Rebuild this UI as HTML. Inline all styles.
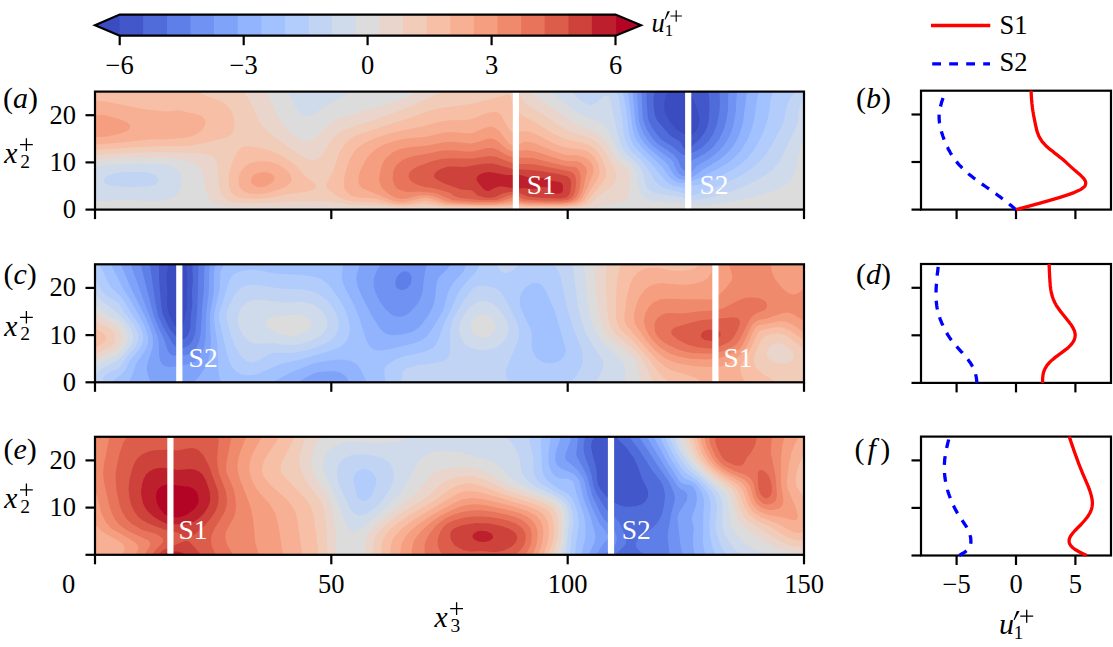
<!DOCTYPE html>
<html><head><meta charset="utf-8"><style>
html,body{margin:0;padding:0;background:#fff;width:1113px;height:647px;overflow:hidden}

</style></head><body>
<svg width="1113" height="647" viewBox="0 0 1113 647" style="position:absolute;left:0;top:0" font-family="Liberation Serif, serif" font-size="26.5">
<rect width="1113" height="647" fill="#fff"/>
<polygon points="120.2,14.6 95.0,25.150000000000002 120.2,35.7" fill="#3b4cc0"/>
<polygon points="615.0,14.6 641.0,25.150000000000002 615.0,35.7" fill="#b40426"/>
<rect x="119.70" y="14.6" width="24.21" height="21.1" fill="#4257c9"/>
<rect x="143.31" y="14.6" width="24.21" height="21.1" fill="#506bda"/>
<rect x="166.92" y="14.6" width="24.21" height="21.1" fill="#5f7fe8"/>
<rect x="190.53" y="14.6" width="24.21" height="21.1" fill="#6f92f3"/>
<rect x="214.14" y="14.6" width="24.21" height="21.1" fill="#80a3fa"/>
<rect x="237.75" y="14.6" width="24.21" height="21.1" fill="#92b4fe"/>
<rect x="261.36" y="14.6" width="24.21" height="21.1" fill="#a2c1ff"/>
<rect x="284.97" y="14.6" width="24.21" height="21.1" fill="#b2ccfb"/>
<rect x="308.58" y="14.6" width="24.21" height="21.1" fill="#c1d4f4"/>
<rect x="332.19" y="14.6" width="24.21" height="21.1" fill="#cfdaea"/>
<rect x="355.80" y="14.6" width="24.21" height="21.1" fill="#dddcdc"/>
<rect x="379.40" y="14.6" width="24.21" height="21.1" fill="#e9d5cb"/>
<rect x="403.01" y="14.6" width="24.21" height="21.1" fill="#f1ccb8"/>
<rect x="426.62" y="14.6" width="24.21" height="21.1" fill="#f6bfa6"/>
<rect x="450.23" y="14.6" width="24.21" height="21.1" fill="#f7b093"/>
<rect x="473.84" y="14.6" width="24.21" height="21.1" fill="#f59f80"/>
<rect x="497.45" y="14.6" width="24.21" height="21.1" fill="#f08a6c"/>
<rect x="521.06" y="14.6" width="24.21" height="21.1" fill="#e7745b"/>
<rect x="544.67" y="14.6" width="24.21" height="21.1" fill="#dc5d4a"/>
<rect x="568.28" y="14.6" width="24.21" height="21.1" fill="#cd423b"/>
<rect x="591.89" y="14.6" width="24.21" height="21.1" fill="#bd1f2d"/>
<polygon points="119.7,14.6 615.5,14.6 641.0,25.150000000000002 615.5,35.7 119.7,35.7 95.0,25.150000000000002" fill="none" stroke="#000" stroke-width="2.2" stroke-linejoin="miter"/>
<line x1="119.7" y1="35.7" x2="119.7" y2="45.2" stroke="#000" stroke-width="2.2"/>
<text x="119.7" y="73.5" text-anchor="middle">−6</text>
<line x1="243.7" y1="35.7" x2="243.7" y2="45.2" stroke="#000" stroke-width="2.2"/>
<text x="243.7" y="73.5" text-anchor="middle">−3</text>
<line x1="367.6" y1="35.7" x2="367.6" y2="45.2" stroke="#000" stroke-width="2.2"/>
<text x="367.6" y="73.5" text-anchor="middle">0</text>
<line x1="491.6" y1="35.7" x2="491.6" y2="45.2" stroke="#000" stroke-width="2.2"/>
<text x="491.6" y="73.5" text-anchor="middle">3</text>
<line x1="615.5" y1="35.7" x2="615.5" y2="45.2" stroke="#000" stroke-width="2.2"/>
<text x="615.5" y="73.5" text-anchor="middle">6</text>
<text x="651.6" y="31.9" font-size="26.5" font-style="italic">u</text><path d="M669.9 11.3L667.5 11.3L664.6 19.4L665.5 19.4Z" fill="#000"/><text x="664.8" y="35.7" font-size="16.8">1</text><path d="M670.5 16.0H681.9M676.2 10.3V21.7" stroke="#000" stroke-width="1.1483333333333334" fill="none"/>
<g><rect x="95.0" y="91.6" width="709.0" height="118.0" fill="#3b4cc0"/><path d="M97.4 209.6L804 209.6L804 91.6L742.6 91.6L689.2 91.6L692 96.3L697.7 110.5L699 115.2L699.5 119.9L698.1 127L695.4 131.7L692.5 134.1L690.6 134.9L688.2 135.1L683.5 133.8L676.5 129.4L670.5 122.3L666.1 115.2L664.5 110.5L664.1 103.4L665.7 96.3L668.4 91.6L95 91.6L95 209.6L97.4 209.6Z" fill="#4257c9"/><path d="M97.4 209.6L804 209.6L804 91.6L742.6 91.6L708.2 91.6L709.2 98.7L709.4 108.1L708.8 119.9L707.2 127L705 131.7L700 138.8L692.9 145.2L690.4 148.2L688.2 149.2L685.8 149.2L683.9 148.2L682.3 145.9L681.5 143.5L679.5 141.2L671.7 136.5L668.6 134.1L656.9 119.9L654.9 115.2L653.6 105.8L653.5 98.7L654.5 91.6L95 91.6L95 209.6L97.4 209.6Z" fill="#506bda"/><path d="M97.4 209.6L804 209.6L804 91.6L737.8 91.6L719.5 91.6L719.9 103.4L719.3 112.8L716.9 124.6L713.2 134.1L708.5 141.2L702.4 147.3L695.3 151.5L685.8 154.9L683.5 154.9L681.1 153.8L671.7 146L662.2 140.3L658.4 136.4L652.7 128.2L649.4 122.3L647.8 117.6L646.5 98.7L646.8 91.6L95 91.6L95 209.6L97.4 209.6Z" fill="#5f7fe8"/><path d="M97.4 209.6L804 209.6L804 91.6L728.4 91.6L728.3 96.3L727.9 110.5L726.4 119.9L723.8 129.4L719.3 138.8L714.1 145.9L709.3 150.6L704.7 153.8L692.9 160L690.6 162.3L688.2 167.7L685.8 170L683.5 169.9L681.1 167.7L678 160L674.3 155.3L669.3 151.4L657.2 143.5L652.8 138.8L648 131.7L644.6 124.6L642.7 117.6L641.5 91.6L95 91.6L95 209.6L97.4 209.6Z" fill="#6f92f3"/><path d="M97.4 209.6L804 209.6L804 91.6L737 91.6L735.6 112.8L733.5 124.6L731.4 131.7L728.1 138.8L723.5 145.9L719.4 150.6L714.2 155.2L709.5 158.5L697.6 165.4L695.3 167.5L690.1 174.2L688.2 175.8L685.8 176.6L681.1 175.3L678.7 173.4L676 169.5L673.4 162.4L671.7 160L652.8 145.9L648 140.6L643.8 134.1L640.7 127L638.8 119.9L636.9 91.6L95 91.6L95 209.6L97.4 209.6Z" fill="#80a3fa"/><path d="M97.4 209.6L804 209.6L804 91.6L747 91.6L743 122.3L740.4 131.7L737.5 138.8L733.3 145.9L727.4 153L719 160L702.4 170L693.4 176.6L688.2 179.4L683.5 180L679.1 178.9L675.5 176.6L673.3 174.2L667.9 164.8L665.9 162.4L648.9 148.2L644.5 143.5L640.9 138.4L637.8 131.7L635.4 122.3L632.5 91.6L95 91.6L95 209.6L97.4 209.6Z" fill="#92b4fe"/><path d="M97.4 209.6L804 209.6L804 91.6L758.8 91.6L757.1 98.7L754.1 119.9L750.8 131.7L746.7 141.2L740.8 150.6L735.5 156.5L728.4 162.4L718.9 168.3L700 178L685.8 182.7L681.1 183.3L676.4 182.1L671.3 178.9L669.1 176.6L662.2 167L642.6 148.2L637.1 141.2L634.8 136.4L632.7 129.4L627.9 91.6L95 91.6L95 209.6L97.4 209.6Z" fill="#a2c1ff"/><path d="M97.4 209.6L804 209.6L804 91.6L773.5 91.6L770.7 98.7L769 112.8L766.8 122.3L763.4 131.7L757.7 143.5L753.4 150.6L747.3 158.2L740.2 164.5L732.8 169.5L723.9 174.2L704.7 182.9L697.6 185.1L690.6 185.8L685.8 187.8L683.5 187.8L674 185.9L669.3 183.7L666 181.3L652.2 164.8L636.2 148.4L633.8 145.4L630.5 138.8L628.5 131.7L627.2 117.6L624.4 98.4L622.8 91.6L95 91.6L95 209.6L97.4 209.6Z" fill="#b2ccfb"/><path d="M97.4 209.6L804 209.6L804 91.6L795.9 91.6L791.4 96.3L788.6 101L786.9 105.8L784.1 119.9L780.1 129.4L769.9 148.2L763.3 157.7L753.6 167.1L747.1 171.8L739.4 176.6L726 182.9L706.8 190.7L695.3 194.8L690.6 195.7L688.2 195.5L681.1 192.4L669.3 189.6L664.6 187.9L659.8 185.4L655.4 181.3L645 164.8L640.9 160L631.5 151.4L627.7 145.9L625.7 141.2L623.8 134.1L622 117.7L619.4 101L618.4 96.3L616.5 91.6L95 91.6L95 209.6L97.4 209.6Z" fill="#c1d4f4"/><path d="M97.4 209.6L804 209.6L804 100L801.4 103.4L799.4 108.1L798.6 112.8L798.4 119.9L796.9 124.9L780.4 159.7L776.9 164.8L772.7 169.5L766.7 174.2L759.1 178.7L745.2 186L733.3 190.7L709.8 197.8L697.6 200.1L692.9 200.3L688.2 199.8L681.1 197.1L659.8 194L655.1 192.8L650.4 190.7L647.5 188.4L646.1 186L643.4 174.2L640 167.1L636.2 162.3L626.7 154.6L623.9 150.6L621.5 145.9L617.6 134.1L610.2 98.7L607.8 95.8L605.5 95.7L603.1 96.7L596 102.9L591.3 105L586.6 103.9L581.8 101.2L577.1 97.2L571.8 91.6L95 91.6L95 209.6L97.4 209.6ZM113 186L109.2 185.2L105.4 183.6L103.8 181.3L104.4 178.9L106.8 176.6L111.5 174.2L116.3 173L123.4 172.3L137.5 171.7L147 172.3L153.5 174.2L157.1 176.6L158.5 178.9L158.3 181.3L156.2 183.6L154.1 184.7L149.4 186.1L135.2 187L128.1 187.1L113 186Z" fill="#cfdaea"/><path d="M97.4 209.6L804 209.6L804 137.3L798.5 155.3L795.3 171.8L793 176.6L789.3 181.3L785.1 185L780.4 188.1L774.5 190.7L754.4 196.7L737.8 200.7L718.9 203.9L702.4 205.5L690.6 205.4L676.4 202.9L655.1 201.6L648 199.8L643.3 197L640.9 194L639.4 190.7L638.2 186L636.7 174.2L635 169.5L631.8 164.8L622.9 157.7L619.1 153L608.7 131.7L605.5 126.5L603.1 123.9L598.4 121L584.2 116.5L577.3 112.8L550.5 91.6L349.3 91.6L340.8 97.9L326.6 105.3L312.4 115.1L307.7 116.7L305.3 116.5L303 115.5L298.2 111.2L293.6 103.4L288.5 91.6L95 91.6L95 167.4L102.1 166.1L121 164.1L142.3 163.5L165.9 164.6L173 167.1L176.9 169.5L179.4 171.8L180.9 174.2L181.9 178.9L181.2 186L180.1 189.8L178.4 193.1L175.4 196.2L170.6 198.6L163.5 200.3L156.4 201L118.6 200.1L104.5 201.1L95 200.9L95 209.6L97.4 209.6Z" fill="#dddcdc"/><path d="M239.2 207.3L319.5 207L399.9 208.9L425.9 208.5L459 209.1L570 209L584.2 208.5L595.9 207.2L619.7 202.7L624.4 201L627.9 197.8L629.4 193.1L629.7 176.6L628.6 171.8L625.7 167.1L619.7 162.2L615.6 157.7L607 143.5L603.1 138.2L600.8 135.8L596 132.4L577.1 124.2L569.5 119.9L546.4 103.1L534.6 96.1L529.5 91.6L430.6 91.6L418.5 91.6L409.3 96.2L402.2 98.9L378.6 106.7L366.8 109.5L355 113.8L343.2 116.6L338.4 118.4L333.7 120.9L329 124.3L314.8 138.1L310.1 141L307.7 141.5L303 140.5L295.9 136.4L288.8 130.4L283.3 124.6L277.3 115.2L270.1 98.7L266.1 91.6L95 91.6L95 160.3L121 158.3L161.2 157.5L168.3 157.8L189.5 161.2L192.9 162.4L196.8 164.8L201.2 169.5L203.8 176.6L205 188.4L206.1 193.1L208.4 197.8L210.5 200.2L215.5 203.5L220.3 205.2L227.3 206.5L239.2 207.3Z" fill="#e9d5cb"/><path d="M397.5 207.3L407 207.3L425.9 206.2L444.8 207.6L468.4 208.1L558.2 208.2L577.1 207.4L584.2 206.3L588.9 204.8L592.3 202.5L598.4 196.6L611.9 186L613.8 183.6L615.8 178.9L616.1 174.2L615.7 171.8L613.7 167.1L605.5 152.6L602.6 148.2L598.4 143.6L593.7 140.1L588.9 137.8L570.9 131.7L565.3 129.2L557.6 124.6L541.7 113.6L529.9 106.5L525.1 103L522.8 100.3L520.4 95.6L519.2 91.6L443 91.6L411.7 105.9L394.1 112.8L381.3 117.6L350.2 127.4L343.2 130.4L337.4 134.1L332.3 138.8L324.2 152L319.5 157.8L314.8 160.2L310.1 160L303 156.9L293.2 150.6L273.4 136.4L265.6 129.4L261.5 124.6L258.7 119.9L252.4 105.8L248.7 98.7L243 91.6L95 91.6L95 154.8L139.9 152.4L158.8 151.9L194.3 153L203.7 153.8L210.8 155.3L214.3 157.7L216.9 162.4L218.1 169.5L218.8 186L220.8 193.1L224.5 197.8L227.3 199.6L232.1 201.5L236.7 202.5L253.3 203.4L269.9 202.8L288.8 201.2L321.9 201L329 201.6L350.2 204.8L376.2 205.6L397.5 207.3Z" fill="#f1ccb8"/><path d="M390.4 205L404.6 205.8L425.9 203.4L442.4 206L454.2 206.8L489.7 207.2L513.3 206.4L529.9 207.1L558.2 207.2L570 206.8L577.1 205.9L581.8 204.7L586.1 202.5L601.9 183.6L605 178.9L605.9 176.6L606.3 171.8L605.3 167.1L602.7 160L598.6 153L593.7 147.9L588.9 145.1L581.8 142.8L567.7 139.8L560.6 137.2L551.1 132.3L534.6 122L522.8 116L518 112.6L514.6 108.1L512.6 103.4L510.7 96.3L508.6 94.7L506.2 94.9L470.8 104L440 108.2L430.6 110.3L411.1 117.6L362.1 133.3L355 136.1L350.6 138.8L347.7 141.2L343.3 145.9L339.3 153L333.7 169.5L326.7 183.6L326.6 186L327.6 188.4L329.8 190.7L336 195.4L340.2 197.8L346.7 200.2L355 201.6L376.2 202.4L390.4 205ZM241.5 198.1L253.3 199.1L269.9 198.1L284.1 194.8L307.7 191.4L310.4 190.7L314.6 188.4L315.9 186L314.9 183.6L305.3 176.2L295.9 165.8L288.8 160L277 153.2L265.2 149.3L253.3 146.7L248.6 146.2L243.9 146.7L240.8 148.2L236.8 152.8L232.1 162.4L229.4 171.8L228.4 181.3L229.4 188.4L231.8 193.1L234.4 195.4L236.8 196.7L241.5 198.1ZM97.4 149.7L151.7 146.3L189.5 145.8L202.2 143.5L227.3 137.2L231.7 134.1L233.8 129.4L234.4 124.6L233.7 117.6L232.2 112.8L229.5 108.1L225 103.7L220.3 100.9L206.1 95.6L197.7 91.6L95 91.6L95 149.8L97.4 149.7Z" fill="#f6bfa6"/><path d="M447.1 205.1L487.3 206.1L513.3 205L527.5 205.9L551.1 206.2L565.3 205.9L574.5 204.9L581.3 202.5L584.2 200.2L597.4 178.9L599.3 174.2L599.6 171.8L598.5 164.8L594.8 157.7L590 153L586.6 151.1L581.8 149.6L567.7 148L560.6 146.1L553.5 143.2L536.9 134.7L529.9 131.8L522.8 130.9L515.7 133L513.3 132.8L510.9 131.4L508.6 128.7L501.5 115.8L499.1 113.4L496.8 112.2L492 111.9L487.3 112.9L473.1 118.5L468.4 119.7L461.3 120.3L449.5 120.3L440 121.6L423.5 126.2L397.5 131.4L388.1 133.8L373.4 138.8L363.7 143.5L357.3 148.2L355 150.7L351.9 155.3L348.6 162.4L346.2 169.5L344.5 176.6L343.7 183.6L344.6 188.4L345.8 190.7L347.8 193.1L351.2 195.4L357.3 197.2L376.2 198.8L389.4 202.5L397.5 203.9L407 203.9L425.9 200.5L447.1 205.1ZM248.6 193.2L258.1 194.1L268 193.1L281.6 188.4L286.8 186L289.8 183.6L291.2 181.3L291.6 178.9L290.2 174.2L286.1 169.5L278.7 164.8L269.9 161.8L265.2 161.3L258.1 161.4L251 163L247.5 164.8L244.5 167.1L241.5 170.7L239.7 174.2L238.5 178.9L238.6 183.6L239.2 186L241.5 189.6L243.9 191.3L248.6 193.2ZM97.4 144.2L116.3 143.1L151.7 139.2L165.9 139.2L182.4 138L191.9 136.3L196.8 134.1L202.5 129.4L205.2 124.6L205.6 122.3L205.2 119.9L203.7 117.7L201.4 115.9L196.6 114.2L189.5 112.8L180.1 110.6L175.4 110.6L165.9 111.6L142.3 109.1L106.8 101.8L95 100.4L95 144.2L97.4 144.2Z" fill="#f7b093"/><path d="M475.5 204.9L494.6 204.9L513.3 203L527.5 204.7L558.2 205.1L567.7 204.6L574.8 203.1L579.5 200.8L582.5 197.8L587.2 188.4L593.7 171.8L593.3 167.1L591.3 162.9L588.8 160L584.2 157L577.1 155.3L567.7 155.1L562.9 154.2L552.4 150.6L534.6 143.3L529.9 142L525.1 141.7L522.8 142.2L515.7 145.9L513.3 145.8L508.6 142.9L499.1 130.8L494.4 127.2L489.7 126.6L482.6 128.7L475.5 132L470.8 133.2L466 133.3L451.9 132L444.8 132.4L425.9 136.7L402.2 139.1L393.7 141.2L385.7 143.9L381 145.9L376.2 148.7L371.3 153L367.3 157.7L364.3 162.4L360.8 169.5L359.2 174.2L358.4 178.9L358.9 183.6L360 186L362.5 188.4L391.3 200.2L395.1 201.2L399.9 202.1L404.6 202.1L421.1 198.2L425.9 197.8L430.6 198.6L442.7 202.5L449.5 203.7L475.5 204.9ZM255.7 186.4L260.4 187.2L265.2 186.5L270.9 183.6L273.5 181.3L274.7 178.9L274.3 176.6L271.8 174.2L269.9 173.3L265.2 172.1L260.4 172.3L255.7 173.7L253.3 175.3L251.1 178.9L251 181.3L251.9 183.6L255.7 186.4ZM97.4 136.9L106.4 136.4L118.3 134.1L125.7 131.7L129 129.4L130.3 127L129.6 124.6L127.1 122.3L121 119.7L106.8 115.4L102.1 114.8L95 115.3L95 136.7L97.4 136.9Z" fill="#f59f80"/><path d="M456.6 202.7L473.1 203.5L494.4 203.5L503.3 202.5L513.3 200.3L520.1 202.5L525.1 203.2L560.6 203.7L571.2 202.5L576.5 200.2L579 197.8L581.6 193.1L583.3 188.4L586.9 171.8L586.7 169.5L585.8 167.1L581.8 163.2L577.1 161.2L567.7 161L562.9 160.3L536.9 152.1L529.9 150.4L525.1 150.1L515.7 151.5L510.9 150.9L506.2 148.5L501.5 144.5L496.8 140.4L492 138.5L487.3 138.8L475.5 142.7L470.8 143.5L451.9 141.8L444.8 142L425.9 145.8L409.3 147.2L402.2 148.5L396.3 150.6L391.8 153L385.7 158.2L383 162.4L381.3 167.1L379.3 176.6L379.2 181.3L380.9 186L382.5 188.4L387.6 193.1L391 195.4L395.8 197.8L402.2 199.1L407 198.5L418.8 195.5L428.2 195.3L433 196.2L447.1 201.4L456.6 202.7Z" fill="#f08a6c"/><path d="M546.4 202.5L560.6 202.4L567.7 201.7L572.3 200.2L575.4 197.8L577.1 195.4L579 190.7L580.5 183.6L580.8 178.9L580.4 174.2L579.5 171.3L577.1 168.3L574.8 166.9L565.3 165.9L532.2 158L515.7 157.4L510.9 156.6L506.2 154.8L496.8 149.5L492 148L487.3 148.1L473.1 151.6L468.4 151.7L454.2 150.4L447.1 150.3L440 151.1L430.5 153L414 156.1L407 158L402.2 160.2L396.9 164.8L395.1 167.3L393.3 171.8L392.7 178.9L393.9 183.6L395.1 186L397.1 188.4L399.9 190.1L407 192L418.8 191.5L433 192.7L437.7 194.1L449.5 199.1L453.3 200.2L459 200.7L475.5 201.9L494.4 202.1L501.5 200.9L513.3 197.3L515.7 197.6L519.4 200.2L522.8 201.2L546.4 202.5Z" fill="#e7745b"/><path d="M482.6 200.2L496.8 200L508.6 195.4L513.3 194.6L517.2 195.4L522.8 198.8L527.5 199.7L544 200.7L560.6 200.7L567.7 199.8L571.4 197.8L573.4 195.4L575.2 190.7L576.3 181.3L575.4 176.6L574.2 174.2L572.4 172.6L570 171.6L555.8 168.5L534.6 164.6L527.5 163.9L518 163.9L513.3 163.3L503.9 160.1L496.8 157.1L489.7 155.9L470.8 158.8L451.9 158.2L442.4 158.8L433 161L418.8 165.9L412.4 169.5L410.1 171.8L408.9 174.2L408.7 176.6L409.5 178.9L411.5 181.3L414 183L418.8 185.2L425.9 187.2L433 188L440 189.7L449.5 192.8L454.2 196L459 197.7L482.6 200.2Z" fill="#dc5d4a"/><path d="M539.3 197.8L560.6 198.4L565.2 197.8L567.7 196.4L570 193.1L571.3 183.6L570.3 178.9L567.7 176.4L559.4 174.2L541.7 171.3L527.5 169.8L513.3 169.3L496.8 164.4L492 163.5L485 163.6L463.7 167L451.9 166.4L447.1 166.8L440 169.3L436.3 171.8L434.3 174.2L434 176.6L435.7 178.9L444.4 183.6L461.3 189.6L470.8 190.3L473.1 191.2L477.6 195.4L485 197.5L489.7 197.8L494.4 197.3L503.9 193.1L510.9 191.8L518 192.5L527.5 196.5L539.3 197.8Z" fill="#cd423b"/><path d="M553.5 193.2L558.2 193.8L561.3 193.1L562.9 190.7L562.9 185.4L562 183.6L560.6 182.6L558.2 181.7L551.1 180.8L546.4 178.5L544 178L532.2 178.5L520.4 175.1L506.2 175L489.7 172L485 172.4L480 174.2L477.3 176.6L476.5 178.9L477.1 181.3L482.6 188.1L485 190.1L487.3 190.9L489.7 190.8L494.4 187.9L499.1 186.4L503.9 186.5L515.7 189L522.8 187.9L534.6 188.9L544 186.7L546.4 187L548.8 188.2L550.5 190.7L553.5 193.2Z" fill="#bd1f2d"/></g>
<g><rect x="95.0" y="264.3" width="709.0" height="118.0" fill="#3b4cc0"/><path d="M97.4 382.3L804 382.3L804 264.3L728.4 264.3L186.3 264.3L187.5 280.8L186.7 292.6L187 306.8L183.1 325.7L182.4 326.9L180.1 328.5L177.7 328L175.4 326L173.5 323.3L168.9 313.9L167.4 309.1L167 304.4L167.3 290.3L166.5 278.5L166.8 273.7L168.8 264.3L95 264.3L95 382.3L97.4 382.3Z" fill="#4257c9"/><path d="M97.4 382.3L804 382.3L804 264.3L721.3 264.3L192.4 264.3L192.9 280.8L191.9 292.6L192.4 304.4L190.8 316.2L190.3 328L188.9 332.7L187.2 336L184.8 338.4L182.4 339.6L180.1 339.7L177.7 338.3L170.6 329.9L166.8 323.3L162.6 313.9L161.3 306.8L159 278.5L159 264.3L95 264.3L95 382.3L97.4 382.3Z" fill="#506bda"/><path d="M97.4 382.3L804 382.3L804 264.3L716.6 264.3L198.5 264.3L197.5 304.4L195.4 332.7L193.1 339.8L189.8 344.5L184.8 347.6L180.1 348.2L177.7 347.8L175.4 346.5L173 343.9L163.5 327.4L158.4 316.2L156.1 306.8L149.8 264.3L95 264.3L95 382.3L97.4 382.3Z" fill="#5f7fe8"/><path d="M97.4 382.3L804 382.3L804 264.3L709.5 264.3L204.5 264.3L203.7 292.6L202.2 306.8L200.7 332.7L199 342L196.6 347.3L194.3 350.5L191.9 352.6L189.4 354L184.8 355.3L177.7 355.7L173 355.4L170.6 354.2L168.3 351.6L167.2 349.3L164.3 339.8L156.4 322.4L153.3 313.9L140.6 264.3L95 264.3L95 382.3L97.4 382.3ZM397 287.9L395.6 285.5L395.1 283.2L396.1 278.5L397.5 275.9L399.9 273.4L402.2 271.9L404.6 271.3L407 271.5L409.3 273L411.2 276.1L411.7 278.5L410.9 283.2L409.3 286.1L407 288.4L402.2 290.1L399.9 289.8L397 287.9Z" fill="#6f92f3"/><path d="M97.4 382.3L804 382.3L804 264.3L636.2 264.3L426.6 264.3L423.9 278.5L422.8 290.3L421.7 295L419.9 299.7L416.4 305.3L409.3 313L404.6 315.8L399.9 316.8L395.2 316.2L392.8 315.2L390.4 313.8L385.7 309.6L380.1 302.1L375.4 292.6L373.6 285.5L373.7 278.5L376.3 271.4L380.9 264.3L210 264.3L209.1 273.7L208.8 292.6L206.3 311.5L205.4 339.8L204.1 346.9L202.6 351.6L198.2 358.7L195.6 361.1L191.9 363.1L187.2 364.5L170.6 367.1L165.9 366.4L163.5 365.2L161.7 363.4L160.3 361.1L159.2 356.3L158.7 342.2L157 335.1L146 306.8L130.6 264.3L95 264.3L95 382.3L97.4 382.3Z" fill="#80a3fa"/><path d="M97.4 382.3L150.4 382.3L147.3 372.9L146.8 368.1L147.4 363.4L152.7 346.9L153 339.8L152.3 335.1L150 328L146.1 318.6L130.8 287.9L120.8 264.3L95 264.3L95 382.3L97.4 382.3ZM194.3 382.3L298.5 382.3L305.6 377.6L314.8 372.9L319.5 371.7L329 371.3L336.1 371.6L341.1 372.9L345.5 376.1L349.7 382.3L804 382.3L804 264.3L733.1 264.3L450.3 264.3L447.5 269L440 276.1L437.7 279.6L436.7 283.2L434.8 299.7L433 306.6L429.2 313.9L422.7 323.3L418.3 328L414.9 330.4L411.7 331.9L402.2 334.4L392.8 335.2L388.1 334.6L385.7 333.5L383.3 331.9L379.7 328L371.5 315.3L361.2 295L357.4 285.5L356.2 278.5L357 273.7L360 264.3L215.6 264.3L214.1 271.4L213.7 292.6L210.1 313.9L209.9 320.9L211 342.2L209.9 354L208 361.1L204.8 368.1L201.4 373.5L194.3 382.3Z" fill="#92b4fe"/><path d="M97.4 382.3L128.9 382.3L132.3 375.2L136.2 363.4L144.5 351.6L147.5 344.5L148.2 339.8L147.7 335.1L144.6 325.7L131.5 302.1L122.8 287.9L110.8 264.3L95 264.3L95 382.3L97.4 382.3ZM220.3 380L221.4 382.3L272.1 382.3L290 372.9L312.4 363.8L326.6 360.8L340.8 359.5L350.2 360.7L355.6 363.4L358.1 365.8L361.3 370.5L366.8 382.3L804 382.3L804 264.3L735.5 264.3L466.3 264.3L463.4 271.4L453.1 283.2L450 287.9L448 292.6L444.3 306.8L442.5 311.5L430.6 331.6L425.9 337.2L421.1 340.5L414 343.2L388.1 349.4L378.6 350.7L373.9 349.4L371.5 347.9L369.1 345.5L366.8 341.6L357.9 313.9L353.6 304.4L345.1 287.9L342.3 280.8L341.7 276.1L343 264.3L224.7 264.3L222.6 266.7L220.5 271.4L219.5 290.3L214.5 311.5L213.9 316.2L214.1 320.9L217.5 344.5L218.5 372.9L220.3 380Z" fill="#a2c1ff"/><path d="M97.4 382.3L112.5 382.3L113.9 379.9L121 375L125.1 370.5L129.6 361.1L139.5 349.3L142.9 342.2L143.3 339.8L143.1 335.1L141.8 330.4L139.7 325.7L131.7 313.9L123.4 299.7L118.6 294.2L114.2 290.3L111.5 287.7L108.4 283.2L99.7 264.3L95 264.3L95 382.3L97.4 382.3ZM385.7 382.3L804 382.3L804 264.3L801.6 264.3L479.7 264.3L476.4 271.4L465.2 283.2L458.4 292.6L450.1 311.5L444 323.3L438.4 339.8L435.3 345.5L433 347.7L428.2 350.3L421.1 352.4L402.2 356.7L395.1 359.7L388.9 363.4L386.1 365.8L384.7 368.1L384.4 370.5L385.3 382.3L385.7 382.3ZM540.7 361.1L537.4 358.7L535.4 356.3L532.9 351.6L531.7 346.9L531.9 335.1L531.2 330.4L521.2 309.1L520.4 306.8L519.8 302.1L520.2 297.3L521.7 292.6L525 287.9L527.5 285.7L532.2 283.2L534.6 282.7L539.3 283.4L542.1 285.5L546.4 292.1L554.8 311.5L565.8 349.3L565.3 353.1L563.7 356.3L561.7 358.7L558.2 361.3L553.5 362.9L548.8 363.3L544 362.5L540.7 361.1ZM246.3 375.3L253.3 374.9L258.1 374L279.3 364.4L300.6 359.4L331.3 350.5L339.8 346.9L345.7 342.2L347.3 339.8L349.1 335.1L349.8 328L348.4 318.6L344.9 309.1L338.4 297.8L329 285.3L326.6 282.9L321.9 279.3L314.8 276.8L300.6 274.7L277 273.8L260.4 270.4L251 269.6L243.9 270.3L239.2 271.6L234.4 273.7L231.8 276.1L229.2 280.8L220.3 309.2L219.1 313.9L218.9 318.6L227.3 355.4L230 363.4L232.8 368.1L236.8 372.1L241.5 374.5L246.3 375.3Z" fill="#b2ccfb"/><path d="M97.4 382.3L102.7 382.3L103.4 377.6L105.1 375.2L108.4 372.9L116.3 369.7L118.7 368.1L121 365.6L125.3 358.7L135.4 346.9L137.5 342.6L138.3 339.8L138.5 337.5L137.8 332.7L134.5 325.7L125.4 313.9L119.4 304.4L117.1 302.1L113.9 299.9L106.8 295.7L103.3 292.6L99.9 287.9L95 279.2L95 382.3L97.4 382.3ZM402.2 382.3L508.4 382.3L506 375.2L506.1 370.5L507.6 365.8L516.7 344.5L518.7 337.5L519.3 330.4L518.3 325.7L516.5 320.9L505.7 299.7L501.3 292.6L499 290.3L494.4 287.7L487.3 285.9L482.6 285.4L477.9 286L473.1 288.5L468.4 293.8L463.7 300.6L453.5 318.6L451.4 323.3L449.8 332.7L450.1 351.6L449 356.3L447 358.7L444.8 360.2L440 361.9L416.4 365.4L406.9 368.1L403.8 370.5L402.5 372.9L401.4 379.9L401.3 382.3L402.2 382.3ZM572.4 382.3L804 382.3L804 264.3L773.3 264.3L553.7 264.3L558.2 271.1L560.6 276.9L566.3 304.4L569.4 316.2L574 330.4L580.7 346.9L582.6 354L582.8 361.1L581.7 365.8L577.1 374.7L571.3 382.3L572.4 382.3ZM246.3 361.2L251 362.6L253.3 362.3L258.1 360.4L269.9 354L274.6 352.7L291.2 353L298.2 352.1L307.7 349.9L317.2 346.9L324.2 344L329 341.4L333.8 337.5L337.1 332.7L338.6 328L338.5 320.9L336.4 313.9L332.4 306.8L326.6 299.9L319.5 294.4L312.4 291.2L303 289.4L279.3 288.5L260.4 285.2L253.3 284.6L248.6 284.9L243.9 286.3L238.2 290.3L234.4 295.1L229.6 304.4L227 311.5L226.4 318.6L230.1 332.7L235.3 346.9L240.9 356.3L246.3 361.2ZM501.5 271.9L503.9 272.9L506.2 273L510.9 271.4L514.3 269L519.4 264.3L513.3 264.3L496.4 264.3L498.5 269L501.5 271.9Z" fill="#c1d4f4"/><path d="M95.9 379.9L96 375.2L97.2 372.9L99.3 370.5L104.5 367.1L113.9 362.8L118.6 359.8L128.3 349.3L131.4 344.5L133.2 339.8L133.4 337.5L132.7 332.7L129 325.7L121 316.5L112.8 309.1L102.1 301.5L97.9 297.3L95 293.6L95 382.3L96.2 382.3L95.9 379.9ZM598.4 382.3L804 382.3L804 264.3L768.6 264.3L572.1 264.3L573.7 271.4L577.9 306.8L582.2 323.3L584.7 330.4L588 337.5L593.7 347L601.7 358.7L603.4 363.4L603.4 365.8L602.3 370.5L598.4 377.6L596.5 382.3L598.4 382.3ZM477.9 349.8L482.6 350.3L487.3 350L496.8 346.9L500.4 344.5L503.9 341.2L506.4 337.5L508.2 332.7L508.7 328L508.4 325.7L506.7 320.9L504.2 316.2L500.9 311.5L496.8 306.9L493.7 304.4L489.7 302.2L485 301L480.2 301.3L475.5 303.1L473.1 304.7L468.4 309.1L464.8 313.9L460.8 320.9L459.3 325.7L459.1 330.4L459.9 335.1L461.3 338.7L463.5 342.2L466 344.7L469.3 346.9L473.1 348.6L477.9 349.8ZM284.1 344.7L291.2 345.1L298.2 344.4L307.1 342.2L314.8 339.1L319.5 336.4L323.9 332.7L326.9 328L327.7 323.3L326.6 318.2L322.4 311.5L317.2 306.9L312.4 304.3L307.7 302.8L300.6 301.8L284.1 302.4L279.9 302.1L260.4 299.6L253.3 300.1L248.6 301.6L243.9 304.8L240.3 309.1L238.3 313.9L237.6 320.9L239.2 327.8L241.5 332.8L246.3 339.2L251 342.5L253.3 343.3L258.1 343.8L272.2 343L284.1 344.7Z" fill="#cfdaea"/><path d="M626.8 382.3L804 382.3L804 264.3L759.1 264.3L583.8 264.3L587.5 302.1L590.1 316.2L592.8 325.7L595.9 332.7L600.8 340.3L606.9 346.9L620.3 358.7L623.8 363.4L624.8 365.8L625.6 370.5L624.5 382.3L626.8 382.3ZM96 365.8L102.1 361.9L116.3 355.7L118.6 354.1L123.2 349.3L127.1 342.2L128.1 337.5L127.9 335.1L125 328L121.3 323.3L118.6 320.9L111.5 316.9L104.5 312.7L95 304.5L95 366.6L96 365.8ZM480.2 337.6L485 337.7L489.7 335.9L493.4 332.7L494.8 330.4L495.5 328L495 323.3L492.2 318.6L489.4 316.2L485 314.5L480.2 314.7L475.5 317.2L472.3 320.9L470.6 325.7L471.2 330.4L473.1 333.5L475.5 335.7L480.2 337.6ZM284.1 335.3L291.2 336.1L298.2 334.9L303.7 332.7L307.7 330.4L310.3 328L311.6 325.7L311.7 323.3L310.8 320.9L307.7 317.9L304.4 316.2L300.6 315.2L293.5 314.7L276.3 316.2L268.8 318.6L265.9 320.9L265.2 323.3L266 325.7L268.4 328L276.9 332.7L284.1 335.3Z" fill="#dddcdc"/><path d="M640.9 380.6L641.2 382.3L804 382.3L804 264.3L759.1 264.3L595 264.3L595.1 278.5L596.7 297.3L599.3 316.2L601.8 325.7L605.2 332.7L608.8 337.5L614.9 343.1L628.9 354L633.8 358.7L635.5 361.1L638.3 368.1L640.9 380.6ZM97.4 358.7L113.6 351.6L116.3 350L119.2 346.9L121.5 342.2L122.3 337.5L122 335.1L120.2 330.4L116.3 325.7L109.2 321.8L102.1 318.2L95 313.5L95 360L97.4 358.7Z" fill="#e9d5cb"/><path d="M652.7 380.8L653.5 382.3L804 382.3L804 264.3L759.1 264.3L607.1 264.3L605.8 276.1L606 292.6L607.8 316.2L610.1 325.7L612.6 330.4L616.5 335.1L631.5 347.6L640.1 356.3L644.6 363.4L652.7 380.8ZM779 363.4L773.3 361.8L768.6 358.7L767.2 356.3L766.6 354L766.8 351.6L769 346.9L770.9 345L773.3 343.7L778 342.9L782.7 344.3L786.9 346.9L792 351.6L793.5 354L793.8 356.3L792.2 360L789.8 362.1L785.1 363.7L779 363.4ZM95.5 354L110.4 346.9L113.1 344.5L114.6 342.2L115.4 337.5L113.9 332.7L111.5 330.1L104.5 325.7L95 320.9L95 354.2L95.5 354Z" fill="#f1ccb8"/><path d="M666.9 380.4L669.8 382.3L774.5 382.3L772.8 379.9L763.8 374.7L759.1 371.2L756.2 368.1L754 363.4L753.7 358.7L754.7 354L759.1 344.2L761.5 340L763.6 337.5L766.2 335.7L770.9 334L775.6 333.2L780.4 333.4L785 335.1L788.9 337.5L804 348.6L804 264.3L789.8 264.3L621.6 264.3L619.4 269L618.1 273.7L616.6 285.5L615.8 313.9L616.2 318.6L617.2 323.3L619.5 328L621.4 330.4L631.5 339.5L640.9 349.5L646.7 356.3L659.8 373.9L666.9 380.4ZM96.9 346.9L102.1 343.7L103.9 342.2L105.5 339.8L105.8 337.5L104.7 335.1L99.7 331L95 328.6L95 347.7L96.9 346.9Z" fill="#f6bfa6"/><path d="M700 380.5L702.2 382.3L745 382.3L740.7 372.9L740.3 368.1L740.8 365.8L750.4 349.3L756.8 335.1L759.1 331.7L761.5 330.1L773.3 327.4L778 327L782.7 327.5L789.8 330.4L804 339.9L804 264.3L747.3 264.3L698.6 264.3L697.4 266.7L693.3 269L688.2 270.2L681.1 270.9L671.7 270.4L657.5 267.8L648 268L643.3 269.2L638.6 271.8L633.8 276.7L630.4 283.2L627.1 295L624.6 313.9L624.7 320.9L626.6 325.7L652.7 355.4L659.8 362.6L664.6 366.4L671.7 370.3L688.5 375.2L694.7 377.6L700 380.5Z" fill="#f7b093"/><path d="M692.9 366.1L707.1 366.9L721.3 366.3L726 365.2L737.8 356.9L742.6 352.8L747.3 345.3L754.4 329.2L756.7 326.4L759.1 325.2L778 321.5L785.1 321.6L792.2 324.3L804 332.5L804 264.3L752 264.3L711.4 264.3L711.8 271.4L711 273.7L707.3 278.5L702.4 281.6L692.9 283.9L685.8 284.8L676.4 284.6L662.2 283.1L657.5 283.5L652.7 284.7L648 287.1L644.3 290.3L640.7 295L638.3 299.7L635.8 306.8L634.1 313.9L633.9 318.6L634.9 323.3L636 325.7L645.5 339.8L655.1 350.4L662.2 356.3L666.9 359.3L676.4 363L692.9 366.1Z" fill="#f59f80"/><path d="M690.6 358.7L707.1 359.4L716.6 358.4L721.3 357.4L737.8 350.5L740.2 348.5L742.6 345L752 325.3L754.4 322.6L759.1 320L766.7 318.6L782.7 313.1L787.5 312.6L789.8 312.9L794.5 314.7L804 321.5L804 288.5L799.3 292.6L794.5 294.4L789.8 293.8L787.5 292.6L782.1 287.9L774.7 278.5L771.8 271.4L770.9 264.3L729 264.3L732.2 276.1L732.2 278.5L731.4 280.8L726 287.9L716.6 297.3L711.8 299.3L707.1 299.6L664.6 298.7L659.8 299.6L655.1 301.5L652.7 303L648.9 306.8L645 313.9L643.9 320.9L644.7 325.7L646.5 330.4L648.8 335.1L652 339.8L659.8 347.3L669.3 353.2L678.7 356.5L690.6 358.7Z" fill="#f08a6c"/><path d="M685.8 351.7L692.9 352.9L702.4 353.6L714.2 353.4L721.3 351.4L733.1 346.6L736.4 344.5L739.7 339.8L749.6 320L752 316.6L756.7 313.1L763.8 310.4L765.6 309.1L767 306.8L767.1 304.4L765.9 302.1L762.9 299.7L759.1 298.3L754.4 297.4L749.6 297.4L744.9 298.1L739.8 299.7L723.6 307.9L716.6 310.2L697.6 311.4L683.5 313.6L671.7 313L666.9 313.2L662.2 314.6L657.5 318L655.6 320.9L654.7 323.3L654.4 328L655.4 332.7L658.4 337.5L663.8 342.2L669.3 345.6L677.6 349.3L685.8 351.7Z" fill="#e7745b"/><path d="M697.6 347.2L709.5 348.5L716.6 347.8L728.4 342.2L731.4 339.8L735 335.1L738.4 328L740 323.3L739.8 320.9L737.8 318.1L733.1 317.2L714.2 319.2L702.4 320.1L692.9 322.1L676.4 327L673.9 328L671.5 330.4L671.2 332.7L672.3 335.1L678 339.8L687.1 344.5L697.6 347.2Z" fill="#dc5d4a"/><path d="M704.7 340L711.8 341.1L716.5 339.8L718.9 337.8L720.6 335.1L720.5 332.7L718.9 331L716.6 329.9L709.5 329.4L705.3 330.4L702.4 332.2L700.9 335.1L701.3 337.5L704.7 340Z" fill="#cd423b"/></g>
<g><rect x="95.0" y="436.8" width="709.0" height="118.0" fill="#3b4cc0"/><path d="M97.4 554.8L804 554.8L804 436.8L801.6 436.8L95 436.8L95 554.8L97.4 554.8Z" fill="#4257c9"/><path d="M97.4 554.8L804 554.8L804 436.8L692.9 436.8L615.7 436.8L626.8 448.2L633.8 458L637.2 465.1L642.3 479.3L646.1 486.4L647.9 491.1L648 495.8L647.2 498.2L645.9 500.5L643.5 502.9L640.9 504.4L636.2 506L629.1 506.8L624.4 506.5L619.7 505.3L612.6 501.8L605.5 495.7L600.8 489.9L598.4 485.8L597.3 481.6L596.5 469.8L592.3 453.3L591.1 446.2L591.8 441.5L595 436.8L95 436.8L95 554.8L97.4 554.8Z" fill="#506bda"/><path d="M97.4 554.8L614 554.8L617.6 552.4L624.7 545.4L626 543L626 538.3L621.4 526.5L618.9 521.8L614.9 517.6L607.8 511.6L600.8 501.2L596.4 493.4L593.6 486.4L591.4 474.6L589.2 467.5L585.4 458L583.7 451L583.6 443.9L585.1 436.8L95 436.8L95 554.8L97.4 554.8ZM643.3 554L644.3 554.8L804 554.8L804 436.8L759.1 436.8L629.1 436.8L638.6 448.9L651.8 469.8L660.9 481.6L663.3 486.4L664.8 493.4L664.9 498.2L663.9 505.2L662.2 513.3L659.8 519.1L657.5 522.6L652.7 527.7L638.7 538.3L636.2 541.9L635.9 545.4L636.8 547.7L638.6 550.1L643.3 554Z" fill="#5f7fe8"/><path d="M97.4 554.8L603.7 554.8L606.4 552.4L610.9 550.1L614.8 545.4L616.7 540.6L616.6 535.9L613.8 528.8L612 526.5L604.1 519.4L600.8 513.9L592.3 495.8L587.4 476.9L585.4 472.2L581.8 465.8L577.3 458L576.2 453.3L578.4 436.8L95 436.8L95 554.8L97.4 554.8ZM669.3 553L669.6 554.8L804 554.8L804 436.8L768.6 436.8L638.8 436.8L648 450.2L657.3 465.1L668.9 481.6L673.2 491.1L674.7 495.8L674.8 500.5L671.6 512.3L668.1 531.2L667.8 538.3L669.3 553Z" fill="#6f92f3"/><path d="M97.4 554.8L595.9 554.8L603.1 544L607.8 539L608.1 535.9L605.6 531.2L600.8 525.3L598.4 521.6L591.3 505.8L587.6 495.8L584.5 481.6L582.6 476.9L577.1 469.4L572 465.1L566.3 460.4L565.1 458L565.6 453.3L570 442.2L571 436.8L95 436.8L95 554.8L97.4 554.8ZM683.5 554.8L804 554.8L804 436.8L756.7 436.8L646.7 436.8L662.4 462.8L676.4 484.6L678.7 487.4L684.4 491.1L686.9 493.4L687.5 495.8L686.6 500.5L679.3 512.3L678.3 514.7L677.5 519.4L680.5 545.4L682.7 554.8L683.5 554.8Z" fill="#80a3fa"/><path d="M97.4 554.8L588.5 554.8L594.2 543L595.3 538.3L595.2 533.6L590.5 517L583.4 498.2L579.6 481.6L577.1 477.4L574.2 474.6L570 472.1L560.6 468.4L557.1 465.1L555.3 460.4L555.3 455.7L556.2 451L560.9 436.8L95 436.8L95 554.8L97.4 554.8ZM695.3 554.8L804 554.8L804 436.8L754.4 436.8L653.6 436.8L666.5 460.4L678.7 479.9L681.1 482.6L683.5 483.8L690.6 485.2L692.6 486.4L695.6 491.1L696.8 495.8L696.9 500.5L695.3 507.5L692.4 514.7L691.7 519.4L693.6 526.5L693.7 528.8L693 538.3L693.1 545.4L694.2 552.4L694.9 554.8L695.3 554.8Z" fill="#92b4fe"/><path d="M97.4 554.8L581.2 554.8L584.9 540.6L585.6 531.2L585.2 521.8L583.8 514.7L576.5 493.4L574 484L572.4 481.2L570 479.4L567.7 478.8L560.6 478.7L555.8 476.7L551.7 472.2L549.6 467.5L548.6 462.8L548.3 455.7L550.6 436.8L95 436.8L95 554.8L97.4 554.8ZM707.1 554.8L804 554.8L804 436.8L754.4 436.8L659.6 436.8L670.2 458L681.1 475L683.5 477.5L685.8 478.9L690.6 480.7L695.3 483.5L698 486.4L702 493.4L703.5 498.2L704.1 502.9L703.2 517L702.9 543L704.1 550.1L705.6 554.8L707.1 554.8Z" fill="#a2c1ff"/><path d="M97.4 554.8L575.1 554.8L576 543L578.6 526.5L578.7 521.8L577.4 512.3L574.8 503.9L572 498.2L568 493.4L558.3 488.7L548.6 481.6L544.6 476.9L543.5 474.6L542.2 469.8L540.5 436.8L95 436.8L95 554.8L97.4 554.8ZM716.6 554.8L804 554.8L804 436.8L749.6 436.8L664.8 436.8L672.3 453.3L681.1 467.6L685.8 473L695.3 479.3L700 483.5L706 491.1L708.5 495.8L710 500.5L710.6 505.2L709.3 526.5L709.9 535.9L712.6 547.7L715.7 554.8L716.6 554.8Z" fill="#b2ccfb"/><path d="M97.4 554.8L570.1 554.8L571.5 535.9L573.2 526.5L573.5 521.8L572.6 512.3L570.3 505.2L567.6 500.5L562.9 496.3L541.5 484L536.7 479.3L534.2 474.6L533.4 469.8L533.6 458L528.5 436.8L95 436.8L95 554.8L97.4 554.8ZM361.7 500.5L358.6 498.2L356.2 493.4L353.6 481.6L353.8 476.9L354.6 474.6L356.4 472.2L359.7 469.9L364.4 469L369.1 470.2L372.2 472.2L375.6 476.9L376.4 479.3L376.1 484L372.4 493.4L369.2 498.2L366.8 500L364.4 500.9L361.7 500.5ZM726 553.9L726.7 554.8L804 554.8L804 436.8L747.3 436.8L669.3 436.8L675.5 451L684.4 465.1L688.5 469.8L700 479.1L705 484L711.3 491.1L714.2 495.8L715.9 500.5L716.6 505.2L716.6 512.3L715.4 524.1L715.9 531.2L719.6 543L721.9 547.7L726 553.9Z" fill="#c1d4f4"/><path d="M97.4 554.8L565.7 554.8L569.3 521.8L568.6 512.3L566 505.2L562.9 501.3L558.9 498.2L553.5 495.1L534.9 486.4L528.7 481.6L525.1 478L521.7 472.2L520.7 467.5L520.1 460.4L518 453.4L513.3 445.1L507.2 436.8L95 436.8L95 554.8L97.4 554.8ZM356.5 514.7L352.6 511.9L349.5 507.6L339.9 486.4L338.2 481.6L337 474.6L337.4 467.5L339.6 462.8L341.6 460.4L345.5 457.5L349.9 455.7L355 454.6L362.1 454.3L373.9 455.7L381 457.8L385.7 460.1L389.1 462.8L391 465.1L393.1 469.8L393.7 474.6L393.2 479.3L392 484L388.9 491.1L385.9 495.8L380 502.9L375.1 507.6L369.1 512.2L364.4 514.7L359.7 515.5L356.5 514.7ZM740.2 553.9L741.5 554.8L804 554.8L804 436.8L737.8 436.8L673.6 436.8L678.6 448.6L688.2 463.7L693.9 469.8L712.5 486.4L718.6 493.4L720.9 498.2L722.5 505.2L722.3 524.1L723.6 531.3L726 536.8L730.7 544.4L735.5 549.9L740.2 553.9Z" fill="#cfdaea"/><path d="M97.4 554.8L561.6 554.8L564.3 540.6L565.6 521.8L565 512.3L562.9 507L559.3 502.9L553.5 498.8L534.6 491.2L519.7 484L510.3 476.9L499.1 465.7L494.4 462.8L487.3 460L461.3 452.5L442.4 450.6L435.3 451.4L428.2 453.9L421.1 458.6L416.4 464.7L409 479.3L403.6 488.7L400.1 493.4L388.8 505.2L364.4 526.2L357.3 530.7L355 531.7L352.6 531.9L350.2 530.6L347.9 527.5L345.5 523L335.3 495.8L324.1 472.2L323.3 467.5L323.5 462.8L324.7 458L327 453.3L331.1 448.6L334.3 446.2L339 443.9L345.5 442.1L352.6 441.6L376.2 443.4L388.1 443L402.2 440.7L412.3 436.8L95 436.8L95 554.8L97.4 554.8ZM763.8 552.8L769.5 554.8L804 554.8L804 436.8L718.9 436.8L677.9 436.8L679.4 441.5L688.7 458L694 465.1L704.7 475.5L717.8 486.4L724.1 493.4L726.3 498.2L727.7 502.9L730.8 524.1L732.7 528.8L735.8 533.6L742.1 540.6L747.6 545.4L752 548.1L763.8 552.8Z" fill="#dddcdc"/><path d="M97.4 554.8L337 554.8L336.2 547.7L335.8 528.8L332.9 512.3L330.3 502.9L327.3 495.8L316.6 479.3L313.1 472.2L311.5 462.8L312 455.7L313.1 451L317.2 442.5L322.2 436.8L95 436.8L95 554.8L97.4 554.8ZM364.4 554.8L557.4 554.8L560.6 542.9L561.7 535.9L561.9 519.4L560.6 510.9L558.2 507.2L553.3 502.9L548.8 500.5L532.2 494.3L511.1 486.4L503.9 482.7L489.7 473.6L477.9 469L468.4 467.2L461.3 467L444.8 468.9L440 470L435.3 472.1L432 474.6L428.2 478.6L420.3 488.7L415.5 493.4L385.7 516.7L372.2 528.8L368.3 533.6L365.9 538.3L365.1 543L364.4 554.8ZM792.2 552.7L804 553.5L804 436.8L692.9 436.8L682.6 436.8L691.6 455.7L696.3 462.8L702.8 469.8L711.8 477.8L723.2 486.4L727.8 491.1L731.6 498.2L736.9 517L741.1 524.1L749.6 532L766.2 542.5L780.4 549.4L792.2 552.7Z" fill="#e9d5cb"/><path d="M97.4 554.8L327.7 554.8L326.5 528.8L324.3 512.3L322.7 505.2L319.5 498.8L308.1 484L303.8 476.9L300.9 469.8L299.7 465.1L299.4 460.4L299.9 455.7L303 443.9L306.3 436.8L95 436.8L95 554.8L97.4 554.8ZM373.9 554.8L553.1 554.8L556.7 543L558.3 535.9L558 521.8L556.9 514.7L554.5 510L551.1 506.7L546.4 504L534.6 499.5L506.2 490.2L485 480.1L475.5 476.9L470.8 476.1L463.7 476L459 476.6L451.9 478.6L447.1 480.4L442.4 483L428.2 496.1L399.9 513.9L389.4 521.8L381.2 528.8L377.1 533.6L374.7 538.3L373.3 547.7L373.1 554.8L373.9 554.8ZM792.2 545.9L804 547.4L804 436.8L697.6 436.8L687.7 436.8L695.6 455.7L700.4 462.8L706.9 469.8L714.2 476.1L728.7 486.4L733.1 491L735.7 495.8L740.4 510L744.9 517.8L747.3 520.3L752 524L778 539.8L785.1 543.5L792.2 545.9Z" fill="#f1ccb8"/><path d="M97.4 554.8L317.7 554.8L317.9 547.7L315.9 531.2L313.8 517L312.1 510L310 505.2L305 498.2L282.5 474.6L281.1 472.2L280.5 467.5L282.6 460.4L291.3 443.9L294.2 436.8L95 436.8L95 554.8L97.4 554.8ZM383.3 554.8L548.4 554.8L552.3 543L553.9 535.9L553.7 524.1L552.2 517L549.5 512.3L546.4 509.6L541.7 506.9L532.2 503.1L503.9 494.5L485 487.2L475.5 484.3L470.8 483.5L466 483.4L459 485L449.5 489.4L434.7 500.5L409.3 515.3L399.9 521.8L391.1 528.8L385.7 534.4L382.6 540.6L381.7 545.4L381.4 554.8L383.3 554.8ZM792.2 539.1L799.3 540.5L804 540.4L804 436.8L702.4 436.8L692.3 436.8L697.1 451L700.8 458L706.2 465.1L713.5 472.2L731.2 484L736.5 488.7L739.4 493.4L744.6 507.6L749.4 514.7L756.7 520.3L770.9 527.1L785.1 535.9L792.2 539.1Z" fill="#f6bfa6"/><path d="M97.4 554.8L302 554.8L300.8 543L298.8 531.2L297.8 521.8L295.4 512.3L291.6 505.2L287.8 500.5L269.9 484.6L263.9 476.9L262.1 472.2L261.9 469.8L262.6 465.1L264.2 460.4L267.5 454.4L276.5 441.5L279.2 436.8L95 436.8L95 554.8L97.4 554.8ZM390.4 554.8L543.5 554.8L546.8 545.4L548.4 538.3L549.1 531.2L548.4 524.1L546.9 519.4L543.7 514.7L539.3 511.3L531.6 507.6L522.8 504.5L480.2 492.3L470.8 490.9L466 491.2L461.3 492.3L454.2 495.4L421.9 514.7L410.9 521.8L401.8 528.8L395 535.9L392.3 540.6L390.6 547.7L390.4 554.8ZM792.2 531.8L796.9 532.9L799.3 533L804 532L804 496.6L797.8 488.7L796.6 486.4L795.7 481.6L795.9 476.9L797.3 469.8L799.8 462.8L804 454.6L804 436.8L716.6 436.8L696.5 436.8L700.8 451L704.6 458L708 462.8L712.3 467.5L717.9 472.2L735.5 483L739.8 486.4L743 491.1L748.3 505.2L751.3 510L754.4 513L761.5 517.4L780.4 524.9L792.2 531.8Z" fill="#f7b093"/><path d="M123.4 554.8L283 554.8L278.2 524.1L276.4 517L274.7 512.3L269.9 504.2L260.4 493.9L255.7 487.6L252.4 481.6L250 474.6L249.3 467.5L249.8 462.8L251 458L254 451L261.8 436.8L95 436.8L95 524L99 528.8L101.7 531.2L117.8 540.6L121.3 543L123.4 545.2L124.5 547.7L124.6 550.1L122.6 554.8L123.4 554.8ZM402.2 554.8L538.1 554.8L540.9 547.7L542.6 540.6L543.4 533.6L542.8 526.5L541.2 521.8L537.5 517L534.5 514.7L527.5 511L513.3 506.4L482.6 498.9L470.8 497.9L461.3 499.7L451.9 503.9L432.4 514.7L418.6 524.1L410.2 531.2L405.9 535.9L402 543L400.7 547.7L400.4 554.8L402.2 554.8ZM792.2 520L794.5 520.3L796.7 519.4L797.7 517L797.8 514.7L795.8 507.6L787.7 488.7L786.9 484L787.1 479.3L788.9 465.1L791.4 453.3L794.5 444.7L799.2 436.8L718.9 436.8L700.5 436.8L702 443.9L704.5 451L708.4 458L711.9 462.8L716.4 467.5L721.3 471.3L739.9 481.6L743 484L746.5 488.7L749.5 498.2L752 503.8L754.8 507.6L759.1 511.2L763.8 513.6L768.6 515L785.1 518L792.2 520Z" fill="#f59f80"/><path d="M137.5 554.8L259 554.8L255.4 543L253.4 521.8L251.4 510L249.2 502.9L239.9 479.3L237.7 469.8L237.5 465.1L238.5 458L240.6 451L246.1 436.8L220.3 436.8L95.6 436.8L96.1 441.5L95 448.3L95 489.8L97.7 498.2L101.1 512.3L105.5 521.8L111.5 528.8L132.2 540.6L135.8 543L137.5 544.9L138.4 547.7L137.9 550.1L135.7 554.8L137.5 554.8ZM411.7 553.1L411.8 554.8L532.2 554.8L534.6 550L536.8 543L537.6 535.9L537.5 531.2L536.3 526.5L534.6 523.2L531.2 519.4L527.5 516.8L520.4 513.5L513.3 511.2L487.3 505.4L480.2 504.5L473.1 504.2L468.4 504.7L461.3 506.2L451.9 509.9L440 515.9L431.6 521.8L423.5 528.8L417 535.9L414.2 540.6L412 547.7L411.7 553.1ZM768.6 510L773.3 510.1L778 508.9L780.4 507.5L782.2 505.2L783.1 502.9L783.3 498.2L781.1 484L781.1 458L782.1 446.2L784.7 436.8L721.3 436.8L704.6 436.8L705.2 441.5L707.1 447.8L712.4 458L716.6 463.4L721.3 467.8L728.6 472.2L742.6 478.8L746.7 481.6L750.1 486.4L753.5 498.2L756.1 502.9L759.1 506.1L761.5 507.7L768.6 510Z" fill="#f08a6c"/><path d="M147 554.8L233.1 554.8L227.3 545.1L225.9 540.6L225.3 535.9L226.2 531.2L233.9 517L235.3 512.3L235.9 507.6L235.5 498.2L234 491.1L231.5 484L227.3 474.6L226 469.8L226.7 460.4L231.7 436.8L199 436.8L109.5 436.8L103.9 465.1L103.1 474.6L104.4 484L109.8 507.6L112.5 514.7L115 519.4L118.6 523.9L121.5 526.5L128.6 531.2L148.7 540.6L150.2 543L150 545.4L144.7 554.8L147 554.8ZM425.9 554.8L525.3 554.8L528.4 550.1L530.4 545.4L531.6 540.6L531.7 533.6L530.5 528.8L529.2 526.5L525.1 522.1L520.9 519.4L515.4 517L506.2 514.4L494.4 512L482.6 510.5L475.5 510.3L468.4 510.9L461.3 512.3L454.2 514.6L447.1 517.6L440.5 521.8L435.3 526.5L429.7 533.6L425.9 540.6L424.6 545.4L424.6 552.4L425.2 554.8L425.9 554.8ZM763.8 503.9L768.6 504.6L773.3 503L775.6 500.5L777 495.8L775.6 476.9L770.9 453.3L770.9 446.2L772.1 436.8L723.6 436.8L709.2 436.8L709.5 441.5L710.9 446.2L715.4 455.7L718.9 460.9L723.6 465.4L735.5 471.6L744.9 474.6L749.6 477.6L752 480.6L753.6 484L755.8 493.4L757.7 498.2L761.5 502.6L763.8 503.9Z" fill="#e7745b"/><path d="M151.7 554.8L215.9 554.8L213.3 550.1L211.5 545.4L211 538.3L212.3 533.6L214.5 528.8L224.5 512.3L226.7 505.2L227.1 500.5L225.7 491.1L219.3 474.6L217.7 467.5L217.1 458L218.6 441.5L218 436.8L182.4 436.8L127.5 436.8L123.4 442.3L119.7 453.3L116.5 467.5L115.6 476.9L116.6 491.1L119.7 505.2L122.4 512.3L125.2 517L128.1 520.6L132.1 524.1L142.3 530L155.2 533.6L159.8 535.9L162.6 538.3L163.5 540.6L162.6 543L156.4 549.1L151.7 554.8ZM442.4 554.5L515.5 554.8L520.4 550.3L522.8 547.1L524.8 543L525.8 538.3L525.3 533.6L522.9 528.8L520.4 526.4L515.7 523.5L508.6 520.8L499.1 518.4L489.7 517L480.2 516.4L473.1 516.5L466 517.3L459 518.9L451.9 521.2L447.1 523.7L443.9 526.5L440.6 531.2L438.7 535.9L437.7 540.6L437.8 545.4L439.3 550.1L442.4 554.5ZM766.2 498.4L768.6 497.7L770.9 495L771.9 491.1L771.8 486.4L770.9 481.2L768.6 475.8L766.2 472.8L763.8 470.9L761.5 470L759.1 470.5L758.1 472.2L757.7 476.9L758.1 484L758.6 488.7L760.2 493.4L761.5 495.6L763.8 497.8L766.2 498.4ZM735.5 465.4L740.2 465.8L742.6 464.8L744.3 462.8L746.5 458L750.5 453.3L753.4 448.6L755.4 443.9L756.9 436.8L737.8 436.8L715.5 436.8L715.4 441.5L716.6 446.2L721.3 456L723.6 459.2L726 461.3L735.5 465.4Z" fill="#dc5d4a"/><path d="M158.8 554.8L201.1 554.8L194.3 547L189.5 542L187.2 540.8L184.8 540.9L163.5 549.8L158.8 553.7L157.8 554.8L158.8 554.8ZM463.7 550.2L470.8 551.5L482.6 550.9L492 551.9L496.8 551.9L503.9 550.5L509.8 547.7L513 545.4L515.7 542.3L517.3 538.3L517 535.9L515.8 533.6L513.3 531.2L508.6 528.5L501.5 525.9L489.7 523.4L475.5 523L463.7 525L458.6 526.5L453.5 528.8L451.2 531.2L450.3 533.6L450.5 538.3L451.3 540.6L454.9 545.4L459 548.1L463.7 550.2ZM184.8 536.7L187.2 537.8L189.5 537.4L194.3 534.8L203.7 526.7L211.8 517L215.5 511.1L217.9 505.2L218.8 498.2L218 491.1L208.4 464.7L203.7 455.8L199 450.6L196.6 449.1L191.9 447.9L187.2 448.4L177.7 450.4L165.9 449.8L156.4 450L149.4 451.2L142.3 454.2L137.5 458.3L135.2 461.7L132.8 467L129.5 479.3L128.5 488.7L129.5 498.2L131.4 505.2L134.7 512.3L138.6 517L142.3 520L147 522.7L163.5 529.3L177.7 532.6L184.8 536.7Z" fill="#cd423b"/><path d="M165.9 554.8L185.8 554.8L182.4 552.8L177.7 551.4L170.6 551.5L165.9 553.2L163.7 554.8L165.9 554.8ZM477.9 541.2L482.6 541.9L487.3 541.4L490 540.6L492.9 538.3L493.1 535.9L491.4 533.6L486.6 531.2L480.2 530.8L477.9 531.3L473.7 533.6L472.4 535.9L473 538.3L475.5 540.3L477.9 541.2ZM168.3 524.2L184.8 524.2L189.5 523.3L194.3 521.4L199 518.3L203.7 513.7L207.8 507.6L209.6 502.9L210.2 498.2L209.5 491.1L206.1 480.8L202.6 474.6L199 471.5L194.3 469.6L189.5 469.1L180.4 469.8L177.7 469.9L163.5 467.7L158.8 467.9L154.1 469L149.4 471.4L146 474.6L143.5 479.3L142.1 484L141.1 491.1L141.3 495.8L142.9 502.9L145.1 507.6L148.6 512.3L154.1 517L162.1 521.8L168.3 524.2Z" fill="#bd1f2d"/><path d="M170.6 517L177.7 517.5L182.4 516.4L186.7 514.7L193.4 510L196.6 506.2L198.2 502.9L198.7 500.5L198.2 495.8L196.6 492.1L194.3 489.3L189.5 486.8L182.4 486.1L170.6 484.5L165.9 484.6L161 486.4L158.8 488.3L157 491.1L156.2 493.4L156 498.2L157 502.9L159 507.6L163.5 513.2L165.9 515L170.6 517Z" fill="#b40426"/></g>
<rect x="512.8" y="91.6" width="6.2" height="118.0" fill="#fff"/>
<text x="526.8" y="194.0" fill="#fff" font-size="27.5">S1</text>
<rect x="685.1" y="91.6" width="6.2" height="118.0" fill="#fff"/>
<text x="699.4" y="194.0" fill="#fff" font-size="27.5">S2</text>
<rect x="176.2" y="264.3" width="6.2" height="118.0" fill="#fff"/>
<text x="188.6" y="366.7" fill="#fff" font-size="27.5">S2</text>
<rect x="712.3" y="264.3" width="6.2" height="118.0" fill="#fff"/>
<text x="723.4" y="366.7" fill="#fff" font-size="27.5">S1</text>
<rect x="167.3" y="436.8" width="6.2" height="118.0" fill="#fff"/>
<text x="178.5" y="539.2" fill="#fff" font-size="27.5">S1</text>
<rect x="607.9" y="436.8" width="6.2" height="118.0" fill="#fff"/>
<text x="621.7" y="539.2" fill="#fff" font-size="27.5">S2</text>
<rect x="95.0" y="91.6" width="709.0" height="118.0" fill="none" stroke="#000" stroke-width="2.2"/>
<line x1="85.5" y1="209.6" x2="95.0" y2="209.6" stroke="#000" stroke-width="2.2"/>
<text x="76" y="218.1" text-anchor="end">0</text>
<line x1="85.5" y1="162.4" x2="95.0" y2="162.4" stroke="#000" stroke-width="2.2"/>
<text x="76" y="170.9" text-anchor="end">10</text>
<line x1="85.5" y1="115.2" x2="95.0" y2="115.2" stroke="#000" stroke-width="2.2"/>
<text x="76" y="123.7" text-anchor="end">20</text>
<line x1="95.0" y1="209.6" x2="95.0" y2="219.1" stroke="#000" stroke-width="2.2"/>
<line x1="331.3" y1="209.6" x2="331.3" y2="219.1" stroke="#000" stroke-width="2.2"/>
<line x1="567.7" y1="209.6" x2="567.7" y2="219.1" stroke="#000" stroke-width="2.2"/>
<line x1="804.0" y1="209.6" x2="804.0" y2="219.1" stroke="#000" stroke-width="2.2"/>
<text x="4.3" y="163.2" font-size="29.5" font-style="italic">x</text><text x="20.2" y="167.5" font-size="19.5">2</text><path d="M20.0 144.6H32.8M26.4 138.2V150.9" stroke="#000" stroke-width="1.3" fill="none"/>
<text x="3" y="107.7" font-size="30">(<tspan font-style="italic">a</tspan>)</text>
<text x="856" y="107.7" font-size="30">(<tspan font-style="italic">b</tspan>)</text>
<rect x="95.0" y="264.3" width="709.0" height="118.0" fill="none" stroke="#000" stroke-width="2.2"/>
<line x1="85.5" y1="382.3" x2="95.0" y2="382.3" stroke="#000" stroke-width="2.2"/>
<text x="76" y="390.8" text-anchor="end">0</text>
<line x1="85.5" y1="335.1" x2="95.0" y2="335.1" stroke="#000" stroke-width="2.2"/>
<text x="76" y="343.6" text-anchor="end">10</text>
<line x1="85.5" y1="287.9" x2="95.0" y2="287.9" stroke="#000" stroke-width="2.2"/>
<text x="76" y="296.4" text-anchor="end">20</text>
<line x1="95.0" y1="382.3" x2="95.0" y2="391.8" stroke="#000" stroke-width="2.2"/>
<line x1="331.3" y1="382.3" x2="331.3" y2="391.8" stroke="#000" stroke-width="2.2"/>
<line x1="567.7" y1="382.3" x2="567.7" y2="391.8" stroke="#000" stroke-width="2.2"/>
<line x1="804.0" y1="382.3" x2="804.0" y2="391.8" stroke="#000" stroke-width="2.2"/>
<text x="4.3" y="335.9" font-size="29.5" font-style="italic">x</text><text x="20.2" y="340.2" font-size="19.5">2</text><path d="M20.0 317.3H32.8M26.4 310.9V323.6" stroke="#000" stroke-width="1.3" fill="none"/>
<text x="3.5" y="284.0" font-size="30">(<tspan font-style="italic">c</tspan>)</text>
<text x="856" y="284.0" font-size="30">(<tspan font-style="italic">d</tspan>)</text>
<rect x="95.0" y="436.8" width="709.0" height="118.0" fill="none" stroke="#000" stroke-width="2.2"/>
<line x1="85.5" y1="554.8" x2="95.0" y2="554.8" stroke="#000" stroke-width="2.2"/>
<line x1="85.5" y1="507.6" x2="95.0" y2="507.6" stroke="#000" stroke-width="2.2"/>
<text x="76" y="516.1" text-anchor="end">10</text>
<line x1="85.5" y1="460.4" x2="95.0" y2="460.4" stroke="#000" stroke-width="2.2"/>
<text x="76" y="468.9" text-anchor="end">20</text>
<line x1="95.0" y1="554.8" x2="95.0" y2="564.3" stroke="#000" stroke-width="2.2"/>
<line x1="331.3" y1="554.8" x2="331.3" y2="564.3" stroke="#000" stroke-width="2.2"/>
<line x1="567.7" y1="554.8" x2="567.7" y2="564.3" stroke="#000" stroke-width="2.2"/>
<line x1="804.0" y1="554.8" x2="804.0" y2="564.3" stroke="#000" stroke-width="2.2"/>
<text x="4.3" y="508.4" font-size="29.5" font-style="italic">x</text><text x="20.2" y="512.7" font-size="19.5">2</text><path d="M20.0 489.8H32.8M26.4 483.4V496.1" stroke="#000" stroke-width="1.3" fill="none"/>
<text x="3.5" y="459.0" font-size="30">(<tspan font-style="italic">e</tspan>)</text>
<text x="854.5" y="459.0" font-size="30">(<tspan font-style="italic" dx="3">f</tspan><tspan dx="4.5">)</tspan></text>
<text x="331.3" y="593" text-anchor="middle">50</text>
<text x="567.7" y="593" text-anchor="middle">100</text>
<text x="804.0" y="593" text-anchor="middle">150</text>
<text x="68.5" y="593" text-anchor="middle">0</text>
<text x="434.5" y="627.3" font-size="29.5" font-style="italic">x</text><text x="450.4" y="631.6" font-size="19.5">3</text><path d="M450.2 608.7H463.0M456.6 602.3V615.0" stroke="#000" stroke-width="1.3" fill="none"/>
<rect x="921.0" y="90.7" width="190.0" height="118.9" fill="none" stroke="#000" stroke-width="2.2"/>
<line x1="911.5" y1="209.6" x2="921.0" y2="209.6" stroke="#000" stroke-width="2.2"/>
<line x1="911.5" y1="162.0" x2="921.0" y2="162.0" stroke="#000" stroke-width="2.2"/>
<line x1="911.5" y1="114.5" x2="921.0" y2="114.5" stroke="#000" stroke-width="2.2"/>
<line x1="956.6" y1="209.60000000000002" x2="956.6" y2="219.10000000000002" stroke="#000" stroke-width="2.2"/>
<line x1="1016.0" y1="209.60000000000002" x2="1016.0" y2="219.10000000000002" stroke="#000" stroke-width="2.2"/>
<line x1="1075.4" y1="209.60000000000002" x2="1075.4" y2="219.10000000000002" stroke="#000" stroke-width="2.2"/>
<path d="M1016.0,209.6 L1014.8,208.7 L1013.7,207.7 L1012.5,206.8 L1011.4,205.8 L1010.2,204.9 L1009.0,203.9 L1007.8,203.0 L1006.7,202.1 L1005.5,201.1 L1004.3,200.2 L1003.1,199.2 L1001.8,198.3 L1000.6,197.3 L999.4,196.4 L998.1,195.5 L996.8,194.5 L995.5,193.6 L994.2,192.6 L992.9,191.7 L991.6,190.7 L990.2,189.8 L988.9,188.8 L987.5,187.9 L986.2,187.0 L984.8,186.0 L983.5,185.1 L982.1,184.1 L980.8,183.2 L979.5,182.2 L978.2,181.3 L976.9,180.4 L975.6,179.4 L974.4,178.5 L973.1,177.5 L971.9,176.6 L970.8,175.6 L969.6,174.7 L968.5,173.8 L967.4,172.8 L966.3,171.9 L965.3,170.9 L964.3,170.0 L963.3,169.0 L962.3,168.1 L961.4,167.2 L960.5,166.2 L959.6,165.3 L958.7,164.3 L957.9,163.4 L957.1,162.4 L956.4,161.5 L955.6,160.6 L954.9,159.6 L954.2,158.7 L953.5,157.7 L952.9,156.8 L952.3,155.8 L951.7,154.9 L951.1,154.0 L950.5,153.0 L950.0,152.1 L949.5,151.1 L948.9,150.2 L948.4,149.2 L948.0,148.3 L947.5,147.3 L947.0,146.4 L946.6,145.5 L946.2,144.5 L945.8,143.6 L945.3,142.6 L945.0,141.7 L944.6,140.7 L944.2,139.8 L943.8,138.9 L943.5,137.9 L943.2,137.0 L942.8,136.0 L942.5,135.1 L942.2,134.1 L941.9,133.2 L941.6,132.3 L941.4,131.3 L941.1,130.4 L940.9,129.4 L940.6,128.5 L940.4,127.5 L940.2,126.6 L940.0,125.7 L939.8,124.7 L939.7,123.8 L939.5,122.8 L939.4,121.9 L939.3,120.9 L939.2,120.0 L939.2,119.1 L939.1,118.1 L939.1,117.2 L939.1,116.2 L939.1,115.3 L939.2,114.3 L939.3,113.4 L939.4,112.4 L939.5,111.5 L939.6,110.6 L939.8,109.6 L940.0,108.7 L940.2,107.7 L940.4,106.8 L940.7,105.8 L940.9,104.9 L941.2,104.0 L941.4,103.0 L941.7,102.1 L942.0,101.1 L942.3,100.2 L942.6,99.2 L942.9,98.3 L943.2,97.4" fill="none" stroke="#0000ff" stroke-width="3.3" stroke-dasharray="8.8 8.2" stroke-linecap="butt"/>
<path d="M1016.0,209.6 L1019.7,208.6 L1023.5,207.6 L1027.2,206.6 L1030.9,205.6 L1034.5,204.6 L1038.2,203.6 L1041.8,202.6 L1045.3,201.6 L1048.9,200.6 L1052.3,199.6 L1055.7,198.6 L1059.1,197.6 L1062.3,196.6 L1065.4,195.6 L1068.4,194.6 L1071.2,193.6 L1073.9,192.6 L1076.3,191.6 L1078.5,190.6 L1080.4,189.6 L1082.0,188.6 L1083.3,187.6 L1084.4,186.6 L1085.1,185.6 L1085.5,184.6 L1085.7,183.6 L1085.7,182.6 L1085.5,181.6 L1085.1,180.6 L1084.5,179.6 L1083.8,178.6 L1082.9,177.6 L1081.9,176.6 L1080.9,175.6 L1079.8,174.6 L1078.6,173.6 L1077.4,172.6 L1076.3,171.6 L1075.1,170.6 L1074.0,169.6 L1072.9,168.6 L1071.8,167.6 L1070.7,166.6 L1069.6,165.6 L1068.5,164.6 L1067.4,163.6 L1066.4,162.6 L1065.2,161.6 L1064.1,160.6 L1062.9,159.6 L1061.7,158.6 L1060.5,157.6 L1059.2,156.6 L1058.0,155.6 L1056.7,154.6 L1055.4,153.6 L1054.1,152.6 L1052.9,151.6 L1051.7,150.6 L1050.4,149.7 L1049.3,148.7 L1048.1,147.7 L1047.0,146.7 L1045.9,145.7 L1044.9,144.7 L1044.0,143.7 L1043.1,142.7 L1042.3,141.7 L1041.6,140.7 L1040.9,139.7 L1040.3,138.7 L1039.7,137.7 L1039.2,136.7 L1038.7,135.7 L1038.3,134.7 L1037.9,133.7 L1037.5,132.7 L1037.2,131.7 L1036.9,130.7 L1036.6,129.7 L1036.4,128.7 L1036.2,127.7 L1035.9,126.7 L1035.7,125.7 L1035.5,124.7 L1035.3,123.7 L1035.1,122.7 L1034.9,121.7 L1034.7,120.7 L1034.5,119.7 L1034.3,118.7 L1034.1,117.7 L1033.9,116.7 L1033.7,115.7 L1033.5,114.7 L1033.4,113.7 L1033.2,112.7 L1033.0,111.7 L1032.9,110.7 L1032.7,109.7 L1032.6,108.7 L1032.4,107.7 L1032.3,106.7 L1032.2,105.7 L1032.1,104.7 L1031.9,103.7 L1031.8,102.7 L1031.8,101.7 L1031.7,100.7 L1031.6,99.7 L1031.5,98.7 L1031.5,97.7 L1031.4,96.7 L1031.3,95.7 L1031.3,94.7 L1031.2,93.7 L1031.2,92.7 L1031.1,91.7 L1031.1,90.7" fill="none" stroke="#ff0000" stroke-width="3.3" stroke-linecap="butt"/>
<rect x="921.0" y="264.0" width="190.0" height="118.9" fill="none" stroke="#000" stroke-width="2.2"/>
<line x1="911.5" y1="382.9" x2="921.0" y2="382.9" stroke="#000" stroke-width="2.2"/>
<line x1="911.5" y1="335.3" x2="921.0" y2="335.3" stroke="#000" stroke-width="2.2"/>
<line x1="911.5" y1="287.8" x2="921.0" y2="287.8" stroke="#000" stroke-width="2.2"/>
<line x1="956.6" y1="382.9" x2="956.6" y2="392.4" stroke="#000" stroke-width="2.2"/>
<line x1="1016.0" y1="382.9" x2="1016.0" y2="392.4" stroke="#000" stroke-width="2.2"/>
<line x1="1075.4" y1="382.9" x2="1075.4" y2="392.4" stroke="#000" stroke-width="2.2"/>
<path d="M976.9,382.9 L976.8,381.9 L976.7,380.9 L976.6,380.0 L976.5,379.0 L976.4,378.0 L976.2,377.0 L976.0,376.0 L975.8,375.1 L975.6,374.1 L975.3,373.1 L975.0,372.1 L974.7,371.1 L974.3,370.2 L973.9,369.2 L973.4,368.2 L973.0,367.2 L972.4,366.3 L971.9,365.3 L971.3,364.3 L970.7,363.3 L970.0,362.3 L969.3,361.4 L968.6,360.4 L967.9,359.4 L967.1,358.4 L966.3,357.4 L965.5,356.5 L964.7,355.5 L963.8,354.5 L963.0,353.5 L962.1,352.5 L961.2,351.6 L960.3,350.6 L959.4,349.6 L958.5,348.6 L957.6,347.6 L956.8,346.7 L955.9,345.7 L955.0,344.7 L954.2,343.7 L953.4,342.8 L952.6,341.8 L951.9,340.8 L951.1,339.8 L950.4,338.8 L949.8,337.9 L949.1,336.9 L948.5,335.9 L947.8,334.9 L947.3,333.9 L946.7,333.0 L946.1,332.0 L945.6,331.0 L945.1,330.0 L944.5,329.0 L944.1,328.1 L943.6,327.1 L943.1,326.1 L942.7,325.1 L942.2,324.1 L941.8,323.2 L941.4,322.2 L941.0,321.2 L940.6,320.2 L940.2,319.3 L939.9,318.3 L939.6,317.3 L939.2,316.3 L938.9,315.3 L938.6,314.4 L938.3,313.4 L938.1,312.4 L937.8,311.4 L937.6,310.4 L937.4,309.5 L937.2,308.5 L937.0,307.5 L936.9,306.5 L936.7,305.5 L936.6,304.6 L936.5,303.6 L936.4,302.6 L936.3,301.6 L936.2,300.6 L936.1,299.7 L936.1,298.7 L936.0,297.7 L936.0,296.7 L936.0,295.8 L936.0,294.8 L936.0,293.8 L936.0,292.8 L936.0,291.8 L936.1,290.9 L936.1,289.9 L936.1,288.9 L936.2,287.9 L936.2,286.9 L936.3,286.0 L936.4,285.0 L936.4,284.0 L936.5,283.0 L936.6,282.0 L936.7,281.1 L936.8,280.1 L936.8,279.1 L936.9,278.1 L937.0,277.1 L937.1,276.2 L937.2,275.2 L937.3,274.2 L937.4,273.2 L937.6,272.3 L937.7,271.3 L937.8,270.3 L937.9,269.3 L938.0,268.3 L938.1,267.4 L938.2,266.4" fill="none" stroke="#0000ff" stroke-width="3.3" stroke-dasharray="8.8 8.2" stroke-linecap="butt"/>
<path d="M1042.6,382.9 L1042.6,381.9 L1042.6,380.9 L1042.6,379.9 L1042.6,378.9 L1042.7,377.9 L1042.8,376.9 L1042.9,375.9 L1043.0,374.9 L1043.2,373.9 L1043.4,372.9 L1043.7,371.9 L1044.1,370.9 L1044.5,369.9 L1044.9,368.9 L1045.5,367.9 L1046.1,366.9 L1046.7,365.9 L1047.4,364.9 L1048.3,363.9 L1049.1,362.9 L1050.1,361.9 L1051.1,360.9 L1052.2,359.9 L1053.4,358.9 L1054.6,357.9 L1055.9,356.9 L1057.3,355.9 L1058.6,354.9 L1060.0,353.9 L1061.3,352.9 L1062.7,351.9 L1064.0,350.9 L1065.3,349.9 L1066.6,348.9 L1067.8,347.9 L1068.9,346.9 L1069.9,345.9 L1070.8,344.9 L1071.7,343.9 L1072.4,342.9 L1073.1,341.9 L1073.7,340.9 L1074.2,339.9 L1074.5,338.9 L1074.8,337.9 L1075.0,336.9 L1075.1,335.9 L1075.2,334.9 L1075.1,333.9 L1074.9,332.9 L1074.7,331.9 L1074.4,330.9 L1074.0,329.9 L1073.5,328.9 L1073.0,327.9 L1072.4,326.9 L1071.8,325.9 L1071.2,324.9 L1070.5,323.9 L1069.7,323.0 L1069.0,322.0 L1068.2,321.0 L1067.4,320.0 L1066.6,319.0 L1065.8,318.0 L1065.0,317.0 L1064.2,316.0 L1063.4,315.0 L1062.6,314.0 L1061.8,313.0 L1061.0,312.0 L1060.2,311.0 L1059.5,310.0 L1058.8,309.0 L1058.1,308.0 L1057.4,307.0 L1056.7,306.0 L1056.1,305.0 L1055.6,304.0 L1055.0,303.0 L1054.5,302.0 L1054.1,301.0 L1053.6,300.0 L1053.2,299.0 L1052.9,298.0 L1052.5,297.0 L1052.2,296.0 L1051.9,295.0 L1051.7,294.0 L1051.4,293.0 L1051.2,292.0 L1051.0,291.0 L1050.9,290.0 L1050.7,289.0 L1050.6,288.0 L1050.5,287.0 L1050.3,286.0 L1050.2,285.0 L1050.2,284.0 L1050.1,283.0 L1050.0,282.0 L1049.9,281.0 L1049.9,280.0 L1049.8,279.0 L1049.7,278.0 L1049.7,277.0 L1049.6,276.0 L1049.6,275.0 L1049.5,274.0 L1049.5,273.0 L1049.4,272.0 L1049.4,271.0 L1049.3,270.0 L1049.3,269.0 L1049.3,268.0 L1049.2,267.0 L1049.2,266.0 L1049.2,265.0 L1049.1,264.0" fill="none" stroke="#ff0000" stroke-width="3.3" stroke-linecap="butt"/>
<rect x="921.0" y="436.6" width="190.0" height="118.9" fill="none" stroke="#000" stroke-width="2.2"/>
<line x1="911.5" y1="555.5" x2="921.0" y2="555.5" stroke="#000" stroke-width="2.2"/>
<line x1="911.5" y1="507.9" x2="921.0" y2="507.9" stroke="#000" stroke-width="2.2"/>
<line x1="911.5" y1="460.4" x2="921.0" y2="460.4" stroke="#000" stroke-width="2.2"/>
<line x1="956.6" y1="555.5" x2="956.6" y2="565.0" stroke="#000" stroke-width="2.2"/>
<line x1="1016.0" y1="555.5" x2="1016.0" y2="565.0" stroke="#000" stroke-width="2.2"/>
<line x1="1075.4" y1="555.5" x2="1075.4" y2="565.0" stroke="#000" stroke-width="2.2"/>
<path d="M959.2,555.5 L960.9,554.5 L962.5,553.5 L964.1,552.6 L965.4,551.6 L966.6,550.6 L967.6,549.6 L968.5,548.6 L969.2,547.7 L969.7,546.7 L970.2,545.7 L970.5,544.7 L970.7,543.7 L970.8,542.8 L970.9,541.8 L970.9,540.8 L970.8,539.8 L970.8,538.9 L970.6,537.9 L970.5,536.9 L970.2,535.9 L970.0,534.9 L969.7,534.0 L969.4,533.0 L969.0,532.0 L968.6,531.0 L968.1,530.0 L967.6,529.1 L967.1,528.1 L966.6,527.1 L966.0,526.1 L965.4,525.1 L964.7,524.2 L964.1,523.2 L963.4,522.2 L962.7,521.2 L962.1,520.2 L961.4,519.3 L960.7,518.3 L960.1,517.3 L959.4,516.3 L958.8,515.4 L958.2,514.4 L957.6,513.4 L957.0,512.4 L956.5,511.4 L955.9,510.5 L955.4,509.5 L954.9,508.5 L954.4,507.5 L953.9,506.5 L953.4,505.6 L953.0,504.6 L952.5,503.6 L952.1,502.6 L951.7,501.6 L951.3,500.7 L950.9,499.7 L950.5,498.7 L950.1,497.7 L949.8,496.7 L949.4,495.8 L949.1,494.8 L948.7,493.8 L948.4,492.8 L948.1,491.9 L947.8,490.9 L947.5,489.9 L947.3,488.9 L947.0,487.9 L946.8,487.0 L946.5,486.0 L946.3,485.0 L946.1,484.0 L945.9,483.0 L945.7,482.1 L945.5,481.1 L945.3,480.1 L945.2,479.1 L945.0,478.1 L944.9,477.2 L944.8,476.2 L944.7,475.2 L944.6,474.2 L944.5,473.2 L944.5,472.3 L944.4,471.3 L944.4,470.3 L944.3,469.3 L944.3,468.4 L944.3,467.4 L944.3,466.4 L944.3,465.4 L944.4,464.4 L944.4,463.5 L944.5,462.5 L944.6,461.5 L944.6,460.5 L944.7,459.5 L944.8,458.6 L945.0,457.6 L945.1,456.6 L945.2,455.6 L945.4,454.6 L945.6,453.7 L945.7,452.7 L945.9,451.7 L946.1,450.7 L946.3,449.7 L946.5,448.8 L946.7,447.8 L946.9,446.8 L947.2,445.8 L947.4,444.9 L947.6,443.9 L947.8,442.9 L948.1,441.9 L948.3,440.9 L948.6,440.0 L948.8,439.0" fill="none" stroke="#0000ff" stroke-width="3.3" stroke-dasharray="8.8 8.2" stroke-linecap="butt"/>
<path d="M1086.7,555.5 L1084.6,554.5 L1082.5,553.5 L1080.5,552.5 L1078.6,551.5 L1076.9,550.5 L1075.2,549.5 L1073.8,548.5 L1072.5,547.5 L1071.5,546.5 L1070.7,545.5 L1070.0,544.5 L1069.5,543.5 L1069.2,542.5 L1069.1,541.5 L1069.1,540.5 L1069.2,539.5 L1069.5,538.5 L1069.9,537.5 L1070.4,536.5 L1071.0,535.5 L1071.7,534.5 L1072.5,533.5 L1073.3,532.5 L1074.2,531.5 L1075.1,530.5 L1076.1,529.5 L1077.0,528.5 L1078.0,527.5 L1079.0,526.5 L1080.0,525.5 L1081.0,524.5 L1081.9,523.5 L1082.8,522.5 L1083.7,521.5 L1084.6,520.5 L1085.4,519.5 L1086.2,518.5 L1087.0,517.5 L1087.7,516.5 L1088.4,515.5 L1089.0,514.5 L1089.6,513.5 L1090.1,512.5 L1090.6,511.5 L1091.0,510.5 L1091.4,509.5 L1091.7,508.5 L1091.9,507.5 L1092.1,506.5 L1092.2,505.5 L1092.3,504.5 L1092.4,503.5 L1092.4,502.5 L1092.3,501.5 L1092.2,500.5 L1092.1,499.5 L1091.9,498.5 L1091.7,497.5 L1091.5,496.5 L1091.3,495.6 L1091.0,494.6 L1090.7,493.6 L1090.4,492.6 L1090.1,491.6 L1089.8,490.6 L1089.4,489.6 L1089.0,488.6 L1088.7,487.6 L1088.3,486.6 L1087.9,485.6 L1087.4,484.6 L1087.0,483.6 L1086.6,482.6 L1086.2,481.6 L1085.7,480.6 L1085.3,479.6 L1084.9,478.6 L1084.4,477.6 L1084.0,476.6 L1083.6,475.6 L1083.1,474.6 L1082.7,473.6 L1082.3,472.6 L1081.9,471.6 L1081.5,470.6 L1081.1,469.6 L1080.7,468.6 L1080.3,467.6 L1079.9,466.6 L1079.5,465.6 L1079.1,464.6 L1078.7,463.6 L1078.3,462.6 L1078.0,461.6 L1077.6,460.6 L1077.2,459.6 L1076.9,458.6 L1076.5,457.6 L1076.1,456.6 L1075.8,455.6 L1075.4,454.6 L1075.1,453.6 L1074.7,452.6 L1074.3,451.6 L1074.0,450.6 L1073.6,449.6 L1073.3,448.6 L1073.0,447.6 L1072.6,446.6 L1072.3,445.6 L1071.9,444.6 L1071.6,443.6 L1071.2,442.6 L1070.9,441.6 L1070.6,440.6 L1070.2,439.6 L1069.9,438.6 L1069.5,437.6 L1069.2,436.6" fill="none" stroke="#ff0000" stroke-width="3.3" stroke-linecap="butt"/>
<text x="956.6" y="593" text-anchor="middle">−5</text>
<text x="1016.0" y="593" text-anchor="middle">0</text>
<text x="1075.4" y="593" text-anchor="middle">5</text>
<text x="998.9" y="634.2" font-size="30" font-style="italic">u</text><path d="M1019.6 610.9L1016.8 610.9L1013.5 620.0L1014.6 620.0Z" fill="#000"/><text x="1013.8" y="638.5" font-size="19.0">1</text><path d="M1020.2 616.2H1033.2M1026.7 609.8V622.7" stroke="#000" stroke-width="1.3" fill="none"/>
<line x1="931" y1="25.5" x2="990.3" y2="25.5" stroke="#ff0000" stroke-width="3.3"/>
<text x="999.5" y="33.5">S1</text>
<line x1="932.2" y1="63.8" x2="990" y2="63.8" stroke="#0000ff" stroke-width="3.3" stroke-dasharray="8.8 8.2"/>
<text x="999.5" y="71.3">S2</text>
</svg>
</body></html>
